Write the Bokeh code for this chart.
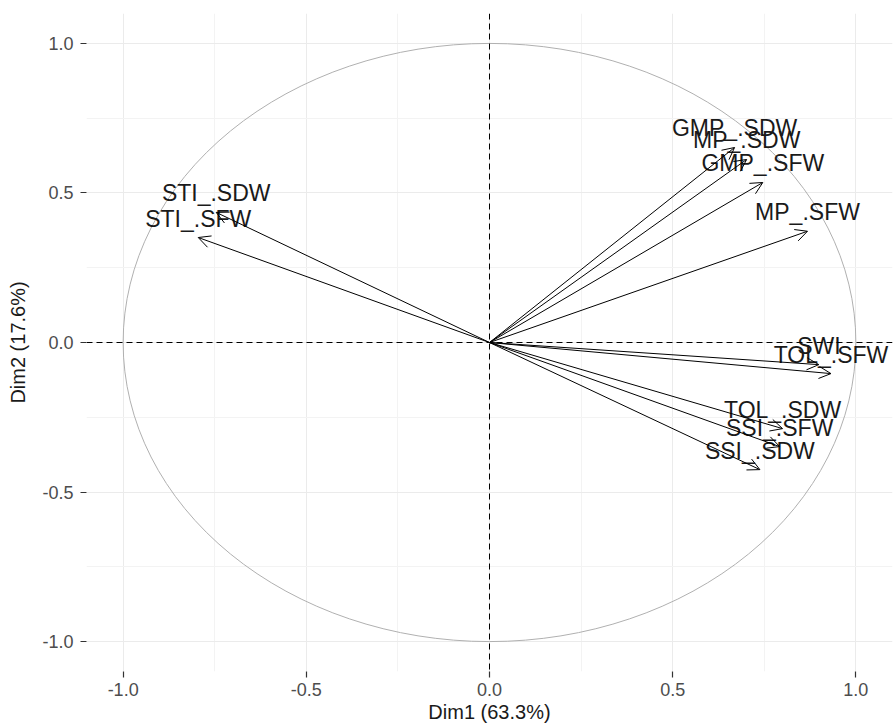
from bokeh.plotting import figure
from bokeh.models import (ColumnDataSource, Arrow, OpenHead, Span, FixedTicker,
                          PrintfTickFormatter, Range1d)
from bokeh.core.properties import value
from bokeh.embed import file_html
from bokeh.resources import INLINE

# ---- data ----
variables = ["GMP_.SDW", "MP_.SDW", "GMP_.SFW", "MP_.SFW", "SWI", "TOL_.SFW",
             "TOL_.SDW", "SSI_.SFW", "SSI_.SDW", "STI_.SDW", "STI_.SFW"]
dim1 = [0.669, 0.702, 0.746, 0.868, 0.899, 0.932, 0.800, 0.792, 0.738, -0.746, -0.795]
dim2 = [0.652, 0.612, 0.535, 0.372, -0.074, -0.104, -0.288, -0.348, -0.425, 0.435, 0.351]
x_label = "Dim1 (63.3%)"
y_label = "Dim2 (17.6%)"
ticks = [-1.0, -0.5, 0.0, 0.5, 1.0]
minor_ticks = [-0.75, -0.25, 0.25, 0.75]

src = ColumnDataSource(dict(x=dim1, y=dim2, name=variables,
                            x0=[0.0] * len(dim1), y0=[0.0] * len(dim1)))

p = figure(width=893, height=725, output_backend="svg", toolbar_location=None,
           x_range=Range1d(-1.1, 1.1), y_range=Range1d(-1.1, 1.1),
           min_border_left=86, min_border_right=1, min_border_top=13,
           min_border_bottom=54)
p.outline_line_color = None
p.background_fill_color = "white"

FONT = "Liberation Sans"

# axes
for ax, lab in ((p.xaxis[0], x_label), (p.yaxis[0], y_label)):
    ax.ticker = FixedTicker(ticks=ticks, minor_ticks=minor_ticks)
    ax.formatter = PrintfTickFormatter(format="%.1f")
    ax.axis_line_color = None
    ax.major_tick_line_color = "#333333"
    ax.major_tick_line_width = 1.2
    ax.major_tick_out = 6
    ax.major_tick_in = 0
    ax.minor_tick_line_color = None
    ax.major_label_text_color = "#4d4d4d"
    ax.major_label_text_font = FONT
    ax.major_label_text_font_size = "18px"
    ax.axis_label = lab
    ax.axis_label_text_font = FONT
    ax.axis_label_text_font_size = "20px"
    ax.axis_label_text_font_style = "normal"
    ax.axis_label_text_color = "#1a1a1a"

p.xaxis[0].major_label_standoff = 5
p.xaxis[0].axis_label_standoff = 2
p.yaxis[0].major_label_standoff = 7
p.yaxis[0].axis_label_standoff = 10

# grid
for g in (p.xgrid[0], p.ygrid[0]):
    g.grid_line_color = "#ebebeb"
    g.grid_line_width = 1
    g.minor_grid_line_color = "#f3f3f3"
    g.minor_grid_line_width = 1

# unit circle
p.ellipse(x=0, y=0, width=2, height=2, fill_color=None,
          line_color="#b0b0b0", line_width=1)

# dashed reference lines
p.add_layout(Span(location=0, dimension="width", line_color="black",
                  line_dash="6 4", line_width=1))
p.add_layout(Span(location=0, dimension="height", line_color="black",
                  line_dash="6 4", line_width=1))

# arrows
p.add_layout(Arrow(end=OpenHead(size=12, line_color="black", line_width=1),
                   x_start="x0", y_start="y0", x_end="x", y_end="y",
                   source=src, line_color="black", line_width=1))

# labels
p.text(x="x", y="y", text="name", source=src, text_align="center",
       text_baseline="middle", y_offset=-19, text_font=value(FONT),
       text_font_size="23px", text_color="#1a1a1a")

open("out.html", "w").write(file_html(p, INLINE))
